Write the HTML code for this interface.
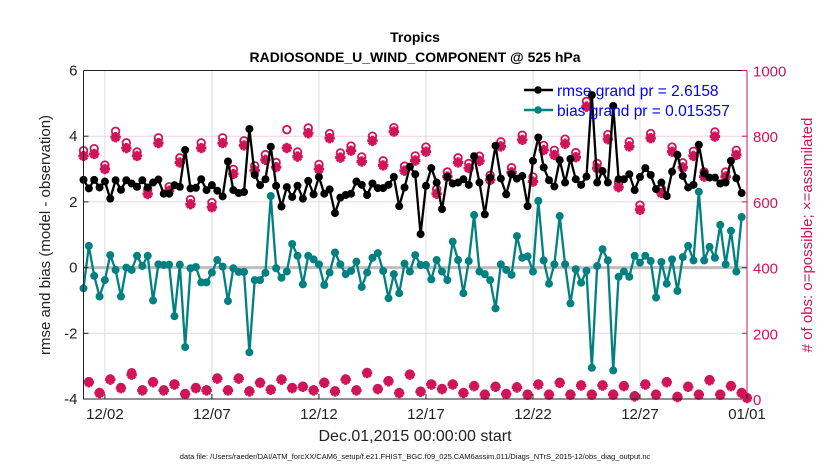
<!DOCTYPE html>
<html><head><meta charset="utf-8"><style>
body{margin:0;background:#fff;}
svg{display:block;font-family:"Liberation Sans",sans-serif;}
</style></head><body>
<svg id="chart" width="830" height="470" viewBox="0 0 830 470" xmlns="http://www.w3.org/2000/svg">
<text x="415" y="42" text-anchor="middle" font-size="14" font-weight="bold">Tropics</text>
<text x="415" y="62" text-anchor="middle" font-size="14" font-weight="bold">RADIOSONDE_U_WIND_COMPONENT @ 525 hPa</text>
<g id="grid"></g>
<g id="marks"></g>
<g id="axes"></g>
<text transform="translate(50,235) rotate(-90)" text-anchor="middle" font-size="15" fill="#222">rmse and bias (model - observation)</text>
<text transform="translate(812,235) rotate(-90)" text-anchor="middle" font-size="15" fill="#d0145a"># of obs: o=possible; ×=assimilated</text>
<text x="415" y="441" text-anchor="middle" font-size="16" fill="#222">Dec.01,2015 00:00:00 start</text>
<text x="415" y="459" text-anchor="middle" font-size="7.5" fill="#111">data file: /Users/raeder/DAI/ATM_forcXX/CAM6_setup/f.e21.FHIST_BGC.f09_025.CAM6assim.011/Diags_NTrS_2015-12/obs_diag_output.nc</text>
<g>
<line x1="524" y1="90" x2="553" y2="90" stroke="#000" stroke-width="2.5"/>
<circle cx="538" cy="90" r="3.8" fill="#000"/>
<text x="557" y="96" font-size="15.5" fill="#0000ff">rmse grand pr = 2.6158</text>
<line x1="524" y1="110" x2="553" y2="110" stroke="#008080" stroke-width="2.5"/>
<circle cx="538" cy="110" r="3.8" fill="#008080"/>
<text x="557" y="116" font-size="15.5" fill="#0000ff">bias grand pr = 0.015357</text>
</g>
</svg>
<script>
const rmse = [2.67,2.41,2.67,2.44,2.62,2.10,2.66,2.37,2.66,2.56,2.46,2.66,2.44,2.59,2.68,2.25,2.25,2.51,2.46,3.58,2.41,2.43,2.69,2.36,2.51,2.34,2.17,3.23,2.36,2.27,2.30,4.22,2.82,2.51,2.69,3.68,2.49,1.86,2.45,2.15,2.49,2.10,2.64,2.23,
2.76,2.25,2.38,1.66,2.13,2.21,2.25,2.62,2.52,2.21,2.56,2.42,2.42,2.52,2.76,1.87,2.44,3.07,2.84,1.02,2.49,3.03,2.59,1.78,2.77,2.56,2.59,2.69,2.52,3.39,2.59,1.62,2.74,3.71,2.71,2.23,2.84,2.71,2.79,1.87,3.25,3.96,
3.05,2.66,2.47,3.27,2.59,3.31,2.69,2.52,2.77,5.25,2.59,2.94,2.59,4.92,2.69,2.69,2.84,2.36,2.76,3.03,2.82,2.39,2.59,2.18,2.92,3.43,2.79,2.44,2.52,3.74,2.87,2.74,2.74,2.56,2.59,3.25,2.72,2.27];
const bias = [-0.63,0.66,-0.25,-0.88,-0.38,0.38,-0.07,-0.88,0,-0.07,0.36,0.05,0.36,-1.0,0.10,0.08,0.09,-1.48,0.09,-2.42,-0.02,0.02,-0.45,-0.45,-0.15,0.23,0.03,-1.02,-0.02,-0.13,-0.13,-2.58,-0.38,-0.38,-0.16,2.18,-0.02,-0.31,-0.12,0.72,0.36,-0.51,0.36,0.25,
0.10,-0.53,-0.15,0.46,0.10,-0.20,-0.10,0.18,-0.59,-0.15,0.30,0.44,-0.10,-0.93,-0.20,-0.78,0.12,-0.12,0.38,0.08,0.08,-0.36,0.23,-0.12,-0.38,0.79,0.23,-0.78,0.20,1.60,-0.12,-0.20,-0.38,-1.24,0.10,-0.07,-0.22,0.96,0.30,0.34,-0.12,2.03,
0.22,-0.49,0.10,1.57,0.10,-1.09,-0.05,-0.46,-0.10,-3.05,0.05,0.56,0.22,-3.13,-0.28,-0.12,-0.28,0.36,0.15,0.36,0.20,-0.91,0.17,-0.49,0.25,-0.71,0.32,0.66,0.22,2.31,0.22,0.63,0.30,1.30,0.10,1.12,-0.12,1.54];
// obs counts at 00Z/12Z (even steps) and 06Z/18Z (odd steps)
const assimMain = [740,746,700,797,764,740,624,779,634,720,593,764,584,779,685,772,696,728,706,764,738,809,700,794,735,756,723,786,711,814,695,726,753,625,677,720,703,725,667,769,690,789,662,758,743,777,736,890,703,791,645,769,576,794,627,753,705,740,677,799,677,743,3];
const possMain = [756,762,712,815,780,752,638,795,646,734,607,780,598,795,699,786,710,744,720,820,752,825,714,808,749,770,737,800,725,826,709,740,767,639,691,734,717,739,681,783,704,803,676,772,757,791,750,906,717,805,659,783,590,808,641,767,719,754,691,813,691,757,4];
const assimOff = [51,18,59,33,74,26,51,26,44,15,33,26,62,26,62,23,49,28,59,33,37,26,49,23,59,26,79,30,54,18,74,22,44,30,44,18,39,13,37,15,35,13,44,13,49,13,41,13,41,13,39,8,44,13,51,6,37,13,57,13,39,18];
const possOff = [53,20,61,35,80,28,53,28,46,17,35,28,64,28,64,25,51,30,61,35,39,28,51,25,61,28,81,32,56,20,76,24,46,32,46,20,41,15,39,17,37,15,46,15,51,15,43,15,43,15,41,10,46,15,53,8,39,15,59,15,41,20];
const xTickDays = [1,6,11,16,21,26,31];
const xTickLabels = ["12/02","12/07","12/12","12/17","12/22","12/27","01/01"];
const yTicks = [6,4,2,0,-2,-4];
const y2Ticks = [1000,800,600,400,200,0];

const NS="http://www.w3.org/2000/svg";
const L=83.5,R=747,T=70.5,B=399,DAYS=31;
const xs=d=>L+(R-L)*d/DAYS;
const ys=v=>B-(v+4)/10*(B-T);
const y2=v=>B-v/1000*(B-T);
function mk(tag,attrs,parent){const e=document.createElementNS(NS,tag);for(const k in attrs)e.setAttribute(k,attrs[k]);parent.appendChild(e);return e;}
const grid=document.getElementById('grid'),marks=document.getElementById('marks'),axes=document.getElementById('axes');
const PINK="#d0145a";
xTickDays.forEach((d,i)=>{const g=mk('line',{x1:xs(d),x2:xs(d),y1:T,y2:B,stroke:'#dcdcdc','stroke-width':1},grid);

});
y2Ticks.forEach(v=>{const g=mk('line',{x1:L,x2:R,y1:y2(v),y2:y2(v),stroke:'#f0d4de','stroke-width':1},grid);

});
const zl=mk('line',{x1:L,x2:R,y1:ys(0),y2:ys(0),stroke:'#bdbdbd','stroke-width':3},grid);


const nObs=assimMain.length+assimOff.length;
for(let i=0;i<nObs;i++){
 const k=Math.floor(i/2),main=i%2===0;
 const a=main?assimMain[k]:assimOff[k], p=main?possMain[k]:possOff[k];
 const x=xs(i*0.25);
 const c=mk('circle',{cx:x,cy:y2(p),r:3.8,fill:'#fff',stroke:PINK,'stroke-width':1.8},marks);
 
 
 const yy=y2(a);
 const s=mk('path',{d:`M${x-5.2},${yy}L${x+5.2},${yy}M${x},${yy-5.2}L${x},${yy+5.2}M${x-3.6},${yy-3.6}L${x+3.6},${yy+3.6}M${x-3.6},${yy+3.6}L${x+3.6},${yy-3.6}`,stroke:PINK,'stroke-width':3},marks);
 
 
}
function series(vals,color,name){
 const pts=vals.map((v,i)=>xs(i*0.25).toFixed(2)+','+ys(v).toFixed(2)).join(' ');
 const pl=mk('polyline',{points:pts,fill:'none',stroke:color,'stroke-width':2.3,'stroke-linejoin':'round'},marks);
 
 
 vals.forEach((v,i)=>{const c=mk('circle',{cx:xs(i*0.25),cy:ys(v),r:4,fill:color},marks);
 
 });
}
series(bias,'#008080','bias');
series(rmse,'#000000','rmse');
const la=mk('path',{d:`M${L},${T}L${L},${B}L${R},${B}M${L},${T}L${R},${T}`,stroke:'#222','stroke-width':1,fill:'none'},axes);


const ra=mk('line',{x1:R,x2:R,y1:T,y2:B,stroke:PINK,'stroke-width':1},axes);


yTicks.forEach(v=>{
 const t=mk('line',{x1:L,x2:L+5,y1:ys(v),y2:ys(v),stroke:'#222'},axes);
 
 
 const tx=mk('text',{x:L-6,y:ys(v)+5,'text-anchor':'end','font-size':15,fill:'#222'},axes);tx.textContent=v;
 
 
});
y2Ticks.forEach(v=>{
 const t=mk('line',{x1:R-5,x2:R,y1:y2(v),y2:y2(v),stroke:PINK},axes);
 
 
 const tx=mk('text',{x:R+6,y:y2(v)+6,'font-size':15,fill:PINK},axes);tx.textContent=v;
 
 
});
xTickDays.forEach((d,i)=>{
 const t=mk('line',{x1:xs(d),x2:xs(d),y1:B-5,y2:B,stroke:'#222'},axes);
 
 
 const tx=mk('text',{x:xs(d),y:B+20,'text-anchor':'middle','font-size':15,fill:'#222'},axes);tx.textContent=xTickLabels[i];
 
 
});
</script>
</body></html>
